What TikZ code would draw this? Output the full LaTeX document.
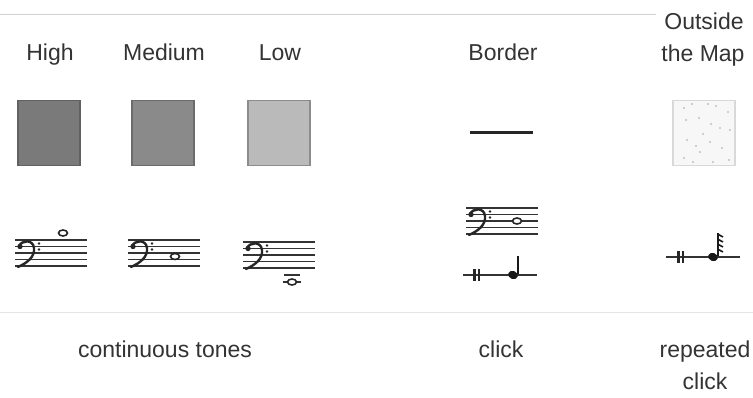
\documentclass[tikz,border=0pt]{standalone}
\usepackage{fontspec}
\setmainfont{Liberation Sans}
\definecolor{hiF}{gray}{0.48}
\definecolor{hiD}{gray}{0.38}
\definecolor{meF}{gray}{0.54}
\definecolor{meD}{gray}{0.42}
\definecolor{loF}{gray}{0.73}
\definecolor{loD}{gray}{0.55}
\begin{document}
\begin{tikzpicture}[x=1pt,y=-1pt,
  lbl/.style={font=\fontsize{23}{28}\selectfont, text=black!80, inner sep=0pt, anchor=base},
  swatch/.style={minimum width=62pt, minimum height=65pt, inner sep=0pt, line width=1.2pt},
  staffline/.style={line width=1.3pt, draw=black!80},
  rule/.style={line width=1pt, draw=black!18},
  wnote/.style={line width=1.6pt, draw=black!85, fill=white},
  bassstaff/.pic={
    \foreach \i in {0,...,4} \draw[staffline] (0,6.5*\i) -- (72,6.5*\i);
    \draw[line width=2.4pt, line cap=round, black!85] (4,6) .. controls (7,0) and (18,-1) .. (19,8) .. controls (20,17) and (12,23) .. (3,27);
    \fill[black!85] (5,6.5) circle (2.7);
    \fill[black!85] (24,3.5) circle (1.3);
    \fill[black!85] (24,9.5) circle (1.3);
  }]
\useasboundingbox (0,0) rectangle (753,398);
% faint rules
\coordinate (r1a) at (0,15); \coordinate (r1b) at (656,15);
\draw[rule] (r1a) -- (r1b);
\coordinate (r2a) at (0,313); \coordinate (r2b) at (753,313);
\draw[rule, draw=black!10] (r2a) -- (r2b);
% headings
\node[lbl] (high) at (50,61) {High};
\node[lbl] (medium) at (164,61) {Medium};
\node[lbl] (low) at (280,61) {Low};
\node[lbl] (border) at (503,61) {Border};
\node[lbl] (outside) at (704,30) {Outside};
\node[lbl] (themap) at (703,62) {the Map};
% swatches
\node[swatch, draw=hiD, fill=hiF] (sqhigh) at (49,133) {};
\node[swatch, draw=meD, fill=meF] (sqmed) at (163,133) {};
\node[swatch, draw=loD, fill=loF] (sqlow) at (279,133) {};
\node[swatch, draw=black!15, fill=black!3] (sqout) at (704,133) {};
\foreach \px/\py in {684/108,692/104,708/104,716/106,728/112,686/120,699/118,711/124,720/128,730/130,687/140,696/146,710/142,722/148,700/152,684/158,693/162,713/162,729/160,703/134}
  \fill[black!35] (\px,\py) circle (0.9);
\coordinate (bl) at (470,133); \coordinate (br) at (533,133);
\draw[line width=3pt, black!85] (bl) -- (br);
% staves
\pic at (15,240) {bassstaff};
\draw[wnote] (63,233) ellipse (4.5 and 3);
\pic at (128,240) {bassstaff};
\draw[wnote] (175,256.5) ellipse (4.5 and 3);
\pic at (243,242) {bassstaff};
\coordinate (la) at (284,275); \coordinate (lb) at (300,275);
\draw[staffline] (la) -- (lb);
\coordinate (lc) at (283,282); \coordinate (ld) at (301,282);
\draw[staffline] (lc) -- (ld);
\draw[wnote] (292,282) ellipse (4.5 and 3);
\pic at (466,208) {bassstaff};
\draw[wnote] (517,221) ellipse (4.5 and 3);
% click symbol
\coordinate (ca) at (463,275); \coordinate (cb) at (537,275);
\draw[line width=1.2pt, black!80] (ca) -- (cb);
\fill[black!85] (473,269) rectangle (475.5,281);
\fill[black!85] (477.5,269) rectangle (480,281);
\fill[black!90, rotate around={-20:(513,275)}] (513,275) ellipse (5 and 4);
\coordinate (sa) at (517.5,274); \coordinate (sb) at (517.5,256);
\draw[line width=2pt, black!90] (sa) -- (sb);
% repeated click symbol
\coordinate (oa) at (666,257); \coordinate (ob) at (740,257);
\draw[line width=1.2pt, black!80] (oa) -- (ob);
\fill[black!85] (677,251) rectangle (679.5,263);
\fill[black!85] (681.5,251) rectangle (684,263);
\fill[black!90, rotate around={-20:(713,257)}] (713,257) ellipse (5 and 4);
\coordinate (ta) at (717.5,256); \coordinate (tb) at (717.5,233);
\draw[line width=2pt, black!90] (ta) -- (tb);
\foreach \fy in {234,239,244,249}
  \draw[line width=1.6pt, black!90] (717.5,\fy) -- (723,\fy+3);
% bottom labels
\node[lbl] (cont) at (165,357) {continuous tones};
\node[lbl] (click) at (501,357) {click};
\node[lbl] (rep) at (705,357) {repeated};
\node[lbl] (rclick) at (705,389) {click};
\end{tikzpicture}
\end{document}
